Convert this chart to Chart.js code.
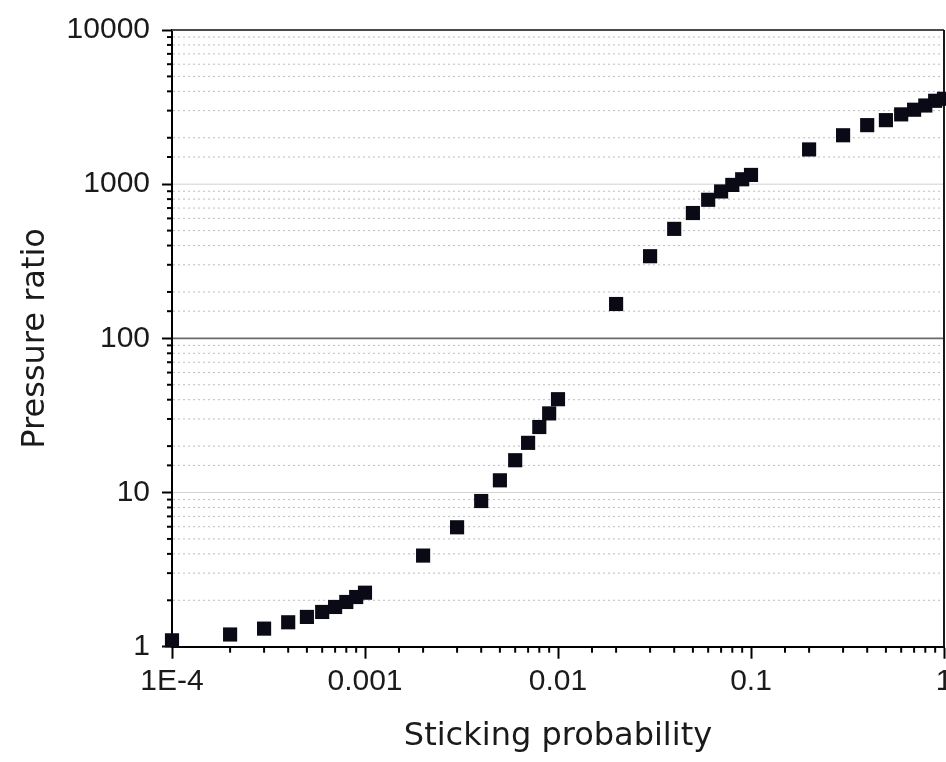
<!DOCTYPE html>
<html>
<head>
<meta charset="utf-8">
<script src="https://cdn.jsdelivr.net/npm/chart.js@4/dist/chart.umd.min.js"></script>
<style>
  html, body { margin: 0; padding: 0; background: #fff; overflow: hidden; }
  #wrap { width: 960px; height: 762px; }
</style>
</head>
<body>
<div id="wrap"><canvas id="c" width="960" height="762"></canvas></div>
<script>
const xTickLabels = ['1E-4', '0.001', '0.01', '0.1', '1'];
const yTickLabels = ['1', '10', '100', '1000', '10000'];
const stickingProbability = [
  0.0001, 0.0002, 0.0003, 0.0004, 0.0005, 0.0006, 0.0007, 0.0008, 0.0009, 0.001,
  0.002, 0.003, 0.004, 0.005, 0.006, 0.007, 0.008, 0.009, 0.01,
  0.02, 0.03, 0.04, 0.05, 0.06, 0.07, 0.08, 0.09, 0.1,
  0.2, 0.3, 0.4, 0.5, 0.6, 0.7, 0.8, 0.9, 1.0
];
const pressureRatio = [
  1.10, 1.20, 1.31, 1.44, 1.56, 1.68, 1.81, 1.95, 2.10, 2.24,
  3.90, 5.95, 8.81, 12.0, 16.2, 21.0, 26.6, 32.6, 40.3,
  167, 341, 513, 650, 792, 897, 989, 1076, 1148,
  1680, 2076, 2415, 2602, 2836, 3040, 3238, 3474, 3580
];

function majorIndex(v, minExp) {
  const e = Math.log10(v);
  const r = Math.round(e);
  return Math.abs(e - r) < 1e-6 ? r - minExp : -1;
}

const framePlugin = {
  id: 'framePlugin',
  beforeDatasetsDraw(chart) {
    const { ctx, chartArea: a, scales: { x, y } } = chart;
    ctx.save();
    y.ticks.forEach(t => {
      const py = y.getPixelForValue(t.value);
      const m = majorIndex(t.value, 0);
      if (py > a.top + 1 && py < a.bottom - 1) {
        ctx.beginPath();
        if (m >= 0) {
          ctx.setLineDash([]);
          ctx.strokeStyle = m === 2 ? '#6a6a6a' : '#d2d2d2';
          ctx.lineWidth = m === 2 ? 1.6 : 1;
        } else {
          ctx.setLineDash([2, 3]);
          ctx.strokeStyle = '#bdbdbd';
          ctx.lineWidth = 1;
        }
        ctx.moveTo(a.left + 1, py);
        ctx.lineTo(a.right, py);
        ctx.stroke();
      }
      if (m < 0) {
        ctx.setLineDash([]);
        ctx.strokeStyle = '#000';
        ctx.lineWidth = 2;
        ctx.beginPath();
        ctx.moveTo(a.left - 5, py);
        ctx.lineTo(a.left, py);
        ctx.stroke();
      }
    });
    x.ticks.forEach(t => {
      if (majorIndex(t.value, -4) >= 0) return;
      const px = x.getPixelForValue(t.value);
      ctx.setLineDash([]);
      ctx.strokeStyle = '#000';
      ctx.lineWidth = 2;
      ctx.beginPath();
      ctx.moveTo(px, a.bottom);
      ctx.lineTo(px, a.bottom + 6);
      ctx.stroke();
    });
    ctx.setLineDash([]);
    ctx.lineWidth = 2;
    ctx.strokeStyle = '#4a4a4a';
    ctx.beginPath();
    ctx.moveTo(a.left, a.top);
    ctx.lineTo(a.right, a.top);
    ctx.stroke();
    ctx.strokeStyle = '#1a1a1a';
    ctx.beginPath();
    ctx.moveTo(a.right, a.top);
    ctx.lineTo(a.right, a.bottom);
    ctx.stroke();
    ctx.restore();
  }
};

new Chart(document.getElementById('c'), {
  type: 'scatter',
  data: {
    datasets: [{
      data: stickingProbability.map((v, i) => ({ x: v, y: pressureRatio[i] })),
      pointStyle: 'rect',
      pointRadius: 10,
      pointHoverRadius: 10,
      borderWidth: 0,
      backgroundColor: '#0a0a16',
      borderColor: '#0a0a16',
      clip: false
    }]
  },
  options: {
    responsive: false,
    devicePixelRatio: 1,
    animation: false,
    layout: { padding: { left: 0, top: 26, right: 16, bottom: 0 } },
    plugins: { legend: { display: false }, tooltip: { enabled: false } },
    scales: {
      x: {
        type: 'logarithmic',
        min: 0.0001,
        max: 1,
        afterFit: s => { s.height = 115.3; },
        grid: {
          drawOnChartArea: false,
          drawTicks: true,
          tickLength: 12,
          tickWidth: 2,
          tickColor: c => majorIndex(c.tick.value, -4) >= 0 ? '#000' : 'rgba(0,0,0,0)'
        },
        border: { display: true, color: '#000', width: 2 },
        ticks: {
          autoSkip: false,
          maxRotation: 0,
          padding: 5,
          color: '#1a1a1a',
          font: { family: '"Liberation Sans", Arial, sans-serif', size: 30 },
          callback: v => { const i = majorIndex(v, -4); return i >= 0 ? xTickLabels[i] : ''; }
        },
        title: {
          display: true,
          text: 'Sticking probability',
          color: '#1a1a1a',
          font: { family: '"DejaVu Sans", sans-serif', size: 32 },
          padding: { top: 0, bottom: 6 }
        }
      },
      y: {
        type: 'logarithmic',
        min: 1,
        max: 10000,
        afterFit: s => { s.width = 172; },
        grid: {
          drawOnChartArea: false,
          drawTicks: true,
          tickLength: 10,
          tickWidth: 2,
          tickColor: c => majorIndex(c.tick.value, 0) >= 0 ? '#000' : 'rgba(0,0,0,0)'
        },
        border: { display: true, color: '#000', width: 2 },
        ticks: {
          autoSkip: false,
          padding: 12,
          color: '#1a1a1a',
          font: { family: '"Liberation Sans", Arial, sans-serif', size: 30 },
          callback: v => { const i = majorIndex(v, 0); return i >= 0 ? yTickLabels[i] : ''; }
        },
        title: {
          display: true,
          text: 'Pressure ratio',
          color: '#1a1a1a',
          font: { family: '"DejaVu Sans", sans-serif', size: 32 },
          padding: { top: 16, bottom: 0 }
        }
      }
    }
  },
  plugins: [framePlugin]
});
</script>
</body>
</html>
